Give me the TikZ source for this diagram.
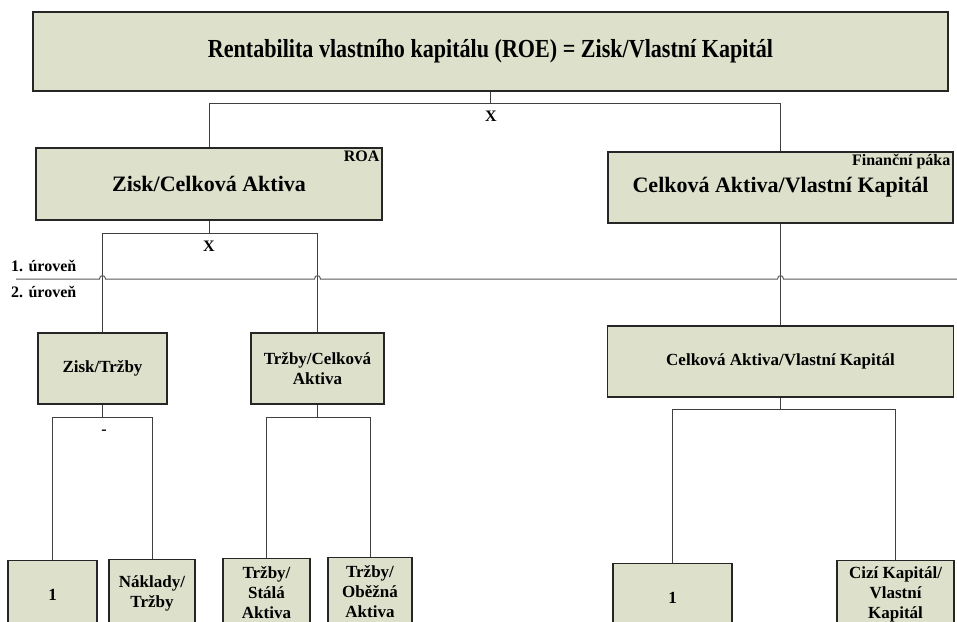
\documentclass[tikz,border=0pt]{standalone}
\usepackage{fontspec}
\setmainfont{Liberation Serif}
\definecolor{boxfill}{HTML}{DDE0CB}

\begin{document}
\begin{tikzpicture}[
  x=1pt, y=-1pt,
  box/.style={draw=black!85, line width=1.1pt, fill=boxfill, inner sep=2pt, align=center, font=\bfseries\fontsize{17}{20}\selectfont},
  conn/.style={draw=black!75, line width=0.9pt},
  level/.style={draw=black!65, line width=1pt},
  tag/.style={font=\bfseries\fontsize{16}{18}\selectfont, inner sep=1pt},
]

\useasboundingbox (0,0) rectangle (957,621);
\clip (0,0) rectangle (957,621);

\node [box, minimum width=915, minimum height=79, font=\bfseries\fontsize{26}{28}\selectfont] (roe) at (490.5,51.5) {\scalebox{0.85}[1]{Rentabilita vlastního kapitálu (ROE) = Zisk/Vlastní Kapitál}};

\node [box, minimum width=346, minimum height=72, font=\bfseries\fontsize{22}{24}\selectfont] (roa) at (209,184) {Zisk/Celková Aktiva};
\node [tag, anchor=north east] (roaTag) at ([xshift=-2pt,yshift=-2pt]roa.north east) {ROA};
\node [box, minimum width=345, minimum height=71, font=\bfseries\fontsize{22}{24}\selectfont] (paka) at (780.5,187.5) {Celková Aktiva/Vlastní Kapitál};
\node [tag, anchor=north east] (pakaTag) at ([xshift=-2pt,yshift=-2pt]paka.north east) {Finanční páka};

\node [box, minimum width=129, minimum height=71] (ziskTrzby) at (102.5,368.5) {Zisk/Tržby};
\node [box, minimum width=133, minimum height=71] (trzbyAktiva) at (317.5,368.5) {Tržby/Celková\\Aktiva};
\node [box, minimum width=346, minimum height=71] (akKap) at (780.5,361.5) {Celková Aktiva/Vlastní Kapitál};

\node [box, anchor=north, minimum width=89, minimum height=68] (jedna) at (52.5,560) {1};
\node [box, anchor=north, minimum width=86, minimum height=68] (naklady) at (152,559) {Náklady/\\Tržby};
\node [box, anchor=north, minimum width=87, minimum height=68] (stala) at (266.5,558) {Tržby/\\Stálá\\Aktiva};
\node [box, anchor=north, minimum width=84, minimum height=68] (obezna) at (370,557) {Tržby/\\Oběžná\\Aktiva};
\node [box, anchor=north, minimum width=119, minimum height=68] (jednaB) at (672.5,563) {1};
\node [box, anchor=north, minimum width=117, minimum height=68] (cizi) at (895.5,560) {Cizí Kapitál/\\Vlastní\\Kapitál};

\coordinate (roeBar) at (0,103);
\draw [conn] (roe.south) -- (roe.south |- roeBar);
\draw [conn] (roa.north) |- (paka.north |- roeBar) -- (paka.north);
\node [tag] (roeX) at (491,116) {X};

\coordinate (roaBar) at (0,233);
\draw [conn] (roa.south) -- (roa.south |- roaBar);
\draw [conn] (ziskTrzby.north) |- (trzbyAktiva.north |- roaBar) -- (trzbyAktiva.north);
\node [tag] (roaX) at (209,246) {X};
\draw [conn] (paka.south) -- (akKap.north);

\draw [level] (16,279) -- (99.5,279) .. controls (99.5,274.5) and (105.5,274.5) .. (105.5,279)
  -- (314.5,279) .. controls (314.5,274.5) and (320.5,274.5) .. (320.5,279)
  -- (777.5,279) .. controls (777.5,274.5) and (783.5,274.5) .. (783.5,279) -- (957,279);
\node [tag, anchor=base west] (uroven1) at (10,271) {1. úroveň};
\node [tag, anchor=base west] (uroven2) at (10,297) {2. úroveň};

\coordinate (ztBar) at (0,417);
\draw [conn] (ziskTrzby.south) -- (ziskTrzby.south |- ztBar);
\draw [conn] (jedna.north) |- (naklady.north |- ztBar) -- (naklady.north);
\node [tag] (ztMinus) at (104,432) {-};

\coordinate (taBar) at (0,417);
\draw [conn] (trzbyAktiva.south) -- (trzbyAktiva.south |- taBar);
\draw [conn] (stala.north) |- (obezna.north |- taBar) -- (obezna.north);

\coordinate (akBar) at (0,409);
\draw [conn] (akKap.south) -- (akKap.south |- akBar);
\draw [conn] (jednaB.north) |- (cizi.north |- akBar) -- (cizi.north);

\end{tikzpicture}
\end{document}
